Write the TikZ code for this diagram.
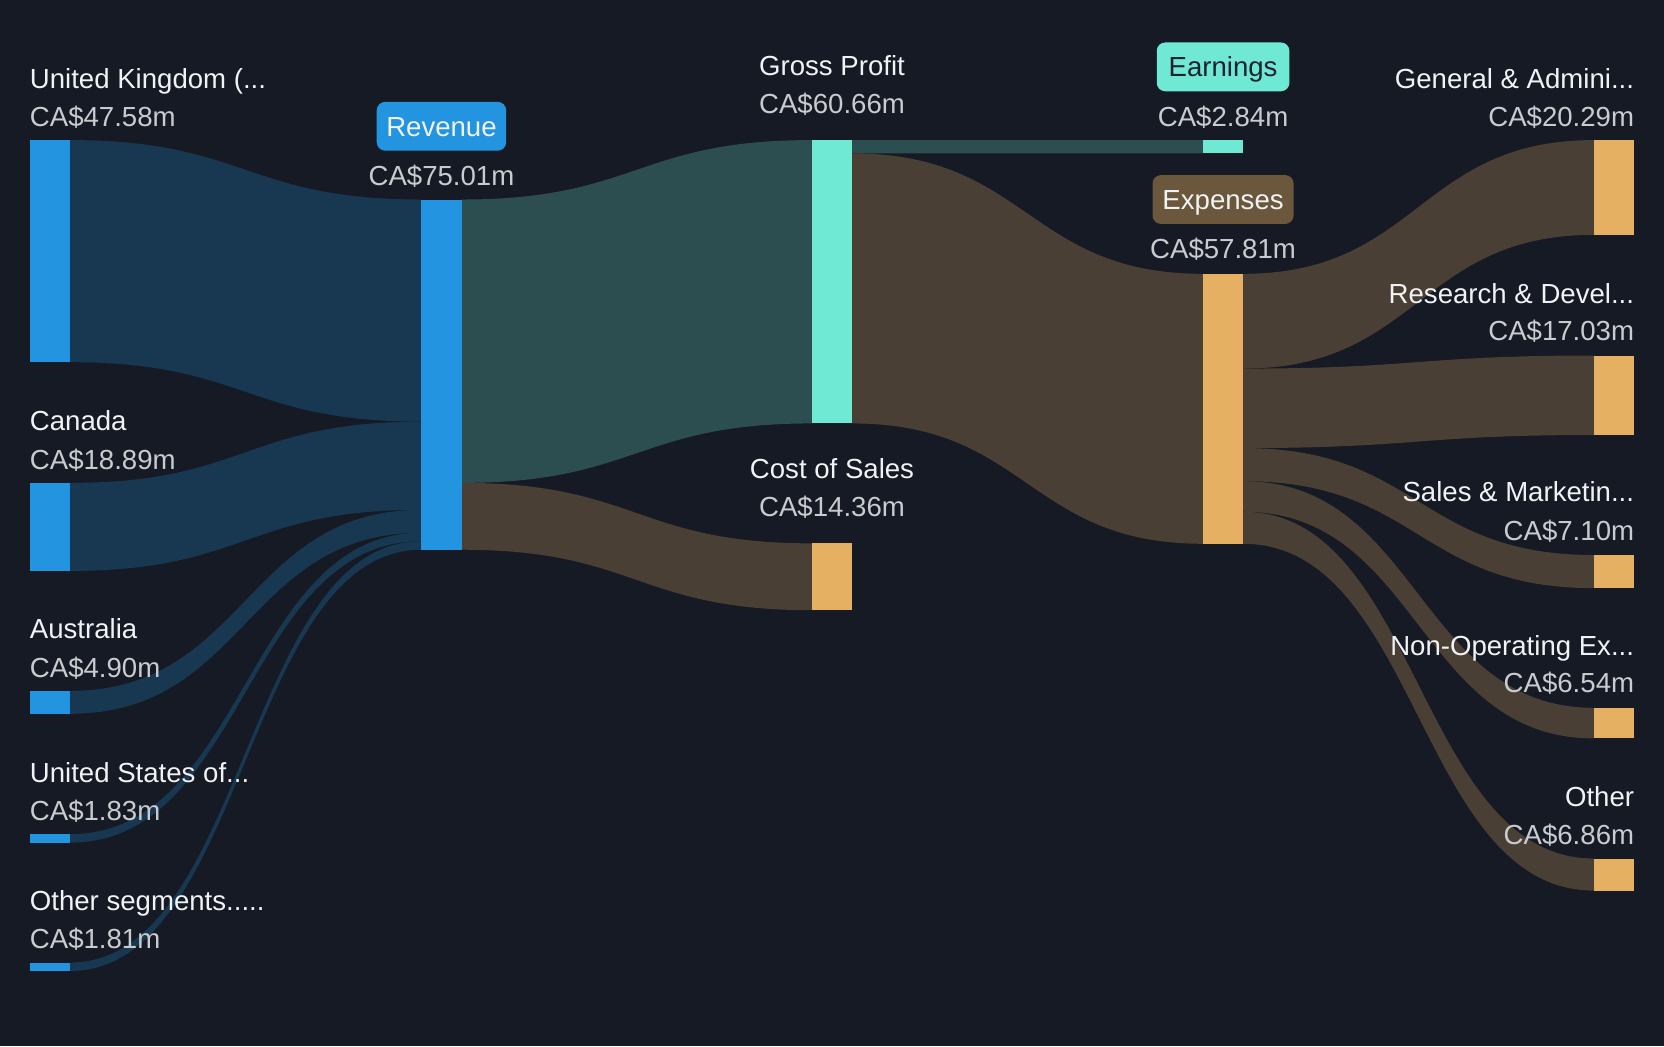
\documentclass[tikz,border=0pt]{standalone}
\usepackage{fontspec}
\setmainfont{Liberation Sans}
\definecolor{bg}{HTML}{151A25}
\definecolor{bluebar}{HTML}{2394E0}
\definecolor{blueflow}{HTML}{183751}
\definecolor{tealbar}{HTML}{6FE9D4}
\definecolor{tealflow}{HTML}{2D4E51}
\definecolor{orangebar}{HTML}{E6B063}
\definecolor{brownflow}{HTML}{4A3F34}
\definecolor{expbadge}{HTML}{6B573B}
\definecolor{labelc}{HTML}{F0F2F4}
\definecolor{valc}{HTML}{C9CBCE}
\definecolor{darktext}{HTML}{1B2330}
\newcommand\flowband[7]{\fill[#1] (#2,#3) .. controls ({(#2+#5)/2},#3) and ({(#2+#5)/2},#6) .. (#5,#6) -- (#5,#7) .. controls ({(#2+#5)/2},#7) and ({(#2+#5)/2},#4) .. (#2,#4) -- cycle;}
\tikzset{
  bar/.style={inner sep=0pt, outer sep=0pt, minimum width=38pt, anchor=north west, draw=none},
  lbl/.style={text=labelc, font=\fontsize{26}{30}\selectfont, inner sep=0pt},
  val/.style={text=valc, font=\fontsize{26}{30}\selectfont, inner sep=0pt},
  badge/.style={rounded corners=8pt, inner sep=0pt, minimum height=46pt, text height=18.5pt, text depth=0pt, font=\fontsize{26}{30}\selectfont}
}
\begin{document}
\begin{tikzpicture}[x=1pt,y=-1pt]
\fill[bg] (0,0) rectangle (1568,986);
\useasboundingbox (0,0) rectangle (1568,986);
% flows left -> revenue
\flowband{blueflow}{66}{132}{341.3}{397}{188}{397.3}
\flowband{blueflow}{66}{455}{538}{397}{397.3}{480.4}
\flowband{blueflow}{66}{651}{672.6}{397}{480.4}{502}
\flowband{blueflow}{66}{786}{794}{397}{502}{510}
\flowband{blueflow}{66}{907}{915}{397}{510}{518}
% revenue -> gp / cos
\flowband{tealflow}{435}{188}{455}{765}{132}{399}
\flowband{brownflow}{435}{455}{518}{765}{512}{575}
% gp -> earnings / expenses
\flowband{tealflow}{803}{132}{144.5}{1133.5}{132}{144.5}
\flowband{brownflow}{803}{144.5}{399}{1133.5}{258}{512.4}
% expenses -> right
\flowband{brownflow}{1171.5}{258}{347.3}{1502}{132}{221.3}
\flowband{brownflow}{1171.5}{347.3}{422.2}{1502}{335}{409.9}
\flowband{brownflow}{1171.5}{422.2}{453.4}{1502}{523}{554.2}
\flowband{brownflow}{1171.5}{453.4}{482.2}{1502}{667}{695.8}
\flowband{brownflow}{1171.5}{482.2}{512.4}{1502}{809}{839.2}
% bars
\node[bar, fill=bluebar, minimum height=209.3pt] (uk) at (28,132) {};
\node[bar, fill=bluebar, minimum height=83pt] (ca) at (28,455) {};
\node[bar, fill=bluebar, minimum height=21.6pt] (au) at (28,651) {};
\node[bar, fill=bluebar, minimum height=8pt] (us) at (28,786) {};
\node[bar, fill=bluebar, minimum height=8pt] (os) at (28,907) {};
\node[bar, fill=bluebar, minimum height=330pt] (rev) at (397,188) {};
\node[bar, fill=tealbar, minimum height=267pt] (gp) at (765,132) {};
\node[bar, fill=orangebar, minimum height=63pt] (cos) at (765,512) {};
\node[bar, fill=tealbar, minimum height=12.5pt] (earn) at (1133.5,132) {};
\node[bar, fill=orangebar, minimum height=254.4pt] (exp) at (1133.5,258) {};
\node[bar, fill=orangebar, minimum height=89.3pt] (ga) at (1502,132) {};
\node[bar, fill=orangebar, minimum height=74.9pt] (rd) at (1502,335) {};
\node[bar, fill=orangebar, minimum height=31.2pt] (sm) at (1502,523) {};
\node[bar, fill=orangebar, minimum height=28.8pt] (nop) at (1502,667) {};
\node[bar, fill=orangebar, minimum height=30.2pt] (oe) at (1502,809) {};
% left labels
\node[lbl, anchor=base west] (ukl) at (28,83) {United Kingdom (...};
\node[val, anchor=base west] (ukv) at (28,119) {CA\$47.58m};
\node[lbl, anchor=base west] (cal) at (28,406) {Canada};
\node[val, anchor=base west] (cav) at (28,442) {CA\$18.89m};
\node[lbl, anchor=base west] (aul) at (28,602) {Australia};
\node[val, anchor=base west] (auv) at (28,638) {CA\$4.90m};
\node[lbl, anchor=base west] (usl) at (28,737) {United States of...};
\node[val, anchor=base west] (usv) at (28,773) {CA\$1.83m};
\node[lbl, anchor=base west] (osl) at (28,858) {Other segments.....};
\node[val, anchor=base west] (osv) at (28,894) {CA\$1.81m};
% middle
\node[badge, fill=bluebar, text=labelc, minimum width=122pt] (revb) at (416,119) {Revenue};
\node[val, anchor=base] (revv) at (416,175) {CA\$75.01m};
\node[lbl, anchor=base] (gpl) at (784,71) {Gross Profit};
\node[val, anchor=base] (gpv) at (784,107) {CA\$60.66m};
\node[lbl, anchor=base] (cosl) at (784,451) {Cost of Sales};
\node[val, anchor=base] (cosv) at (784,487) {CA\$14.36m};
\node[badge, fill=tealbar, text=darktext, minimum width=125pt] (earnb) at (1152.5,63) {Earnings};
\node[val, anchor=base] (earnv) at (1152.5,119) {CA\$2.84m};
\node[badge, fill=expbadge, text=labelc, minimum width=133pt] (expb) at (1152.5,188) {Expenses};
\node[val, anchor=base] (expv) at (1152.5,244) {CA\$57.81m};
% right labels
\node[lbl, anchor=base east] (gal) at (1540,83) {General \& Admini...};
\node[val, anchor=base east] (gav) at (1540,119) {CA\$20.29m};
\node[lbl, anchor=base east] (rdl) at (1540,286) {Research \& Devel...};
\node[val, anchor=base east] (rdv) at (1540,321) {CA\$17.03m};
\node[lbl, anchor=base east] (sml) at (1540,473) {Sales \& Marketin...};
\node[val, anchor=base east] (smv) at (1540,509) {CA\$7.10m};
\node[lbl, anchor=base east] (nopl) at (1540,618) {Non-Operating Ex...};
\node[val, anchor=base east] (nopv) at (1540,653) {CA\$6.54m};
\node[lbl, anchor=base east] (oel) at (1540,760) {Other};
\node[val, anchor=base east] (oev) at (1540,796) {CA\$6.86m};
\end{tikzpicture}
\end{document}
